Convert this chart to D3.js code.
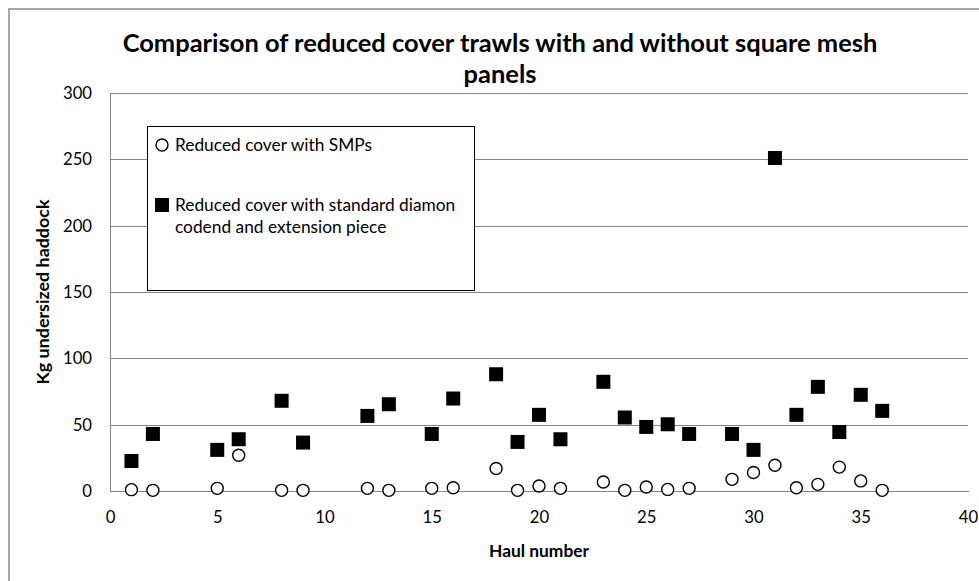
<!DOCTYPE html>
<html><head><meta charset="utf-8">
<script src="https://cdn.jsdelivr.net/npm/d3@7"></script>
<style>
body{margin:0;background:#fff;}
svg{display:block;}
text{font-family:Lato,'Noto Sans',sans-serif;fill:#000;}
</style>
</head><body>
<svg id="chart" width="979" height="581"></svg>
<script>
// ---- data ----
const hauls = [1,2,5,6,8,9,12,13,15,16,18,19,20,21,23,24,25,26,27,29,30,31,32,33,34,35,36];
const smpKg = [1,0.5,2,27,0.5,0.5,2,0.5,2,2.5,17,0.5,3.8,2,6.8,0.5,3,1.2,2,8.8,13.9,19.4,2.5,5,18,7.6,0.5];
const standardKg = [22.6,43,31,39,68,36.5,56.6,65.4,43,69.7,88,37,57.4,39,82.3,55.4,48.3,50.3,43,43,31,251,57.4,78.5,44.5,72.5,60.4];
const xTicks = [0,5,10,15,20,25,30,35,40];
const yTicks = [0,50,100,150,200,250,300];
const titleLines = ["Comparison of reduced cover trawls with and without square mesh","panels"];
const xTitle = "Haul number";
const yTitle = "Kg undersized haddock";
const legendLabels = [["Reduced cover with SMPs"],["Reduced cover with standard diamon","codend and extension piece"]];

// ---- layout ----
const svg = d3.select("#chart");
const plot = {left:110, right:968, top:93, bottom:491};
const x = d3.scaleLinear().domain([0,40]).range([plot.left, plot.right]);
const y = d3.scaleLinear().domain([0,300]).range([plot.bottom, plot.top]);
const gridColor = "#868686";

function fit(sel, target){
  const w = sel.node().getComputedTextLength();
  const fs = parseFloat(sel.attr("font-size"));
  sel.attr("font-size", (fs*target/w).toFixed(2));
}

// outer chart border (extends past the right / bottom edge)
svg.append("path")
  .attr("d", "M9,600 L9,9 L1000,9")
  .attr("fill","none").attr("stroke","#a6a6a6").attr("stroke-width",2);

// gridlines
const grid = svg.append("g").attr("transform", `translate(${plot.left},0)`)
  .call(d3.axisLeft(y).tickValues(yTicks.slice(1)).tickSize(-(plot.right-plot.left)).tickFormat(""));
grid.select(".domain").remove();
grid.selectAll("line").attr("stroke", gridColor).attr("stroke-width",1).attr("shape-rendering","crispEdges");

// y axis
const yAx = svg.append("g").attr("transform", `translate(${plot.left},0)`)
  .call(d3.axisLeft(y).tickValues(yTicks).tickSize(0).tickSizeOuter(0).tickPadding(18));
yAx.select(".domain").attr("stroke", gridColor).attr("shape-rendering","crispEdges");
yAx.selectAll("text").attr("font-size",16.7).attr("font-family","Lato,'Noto Sans',sans-serif").attr("fill","#000");

// x axis
const xAx = svg.append("g").attr("transform", `translate(0,${plot.bottom})`)
  .call(d3.axisBottom(x).tickValues(xTicks).tickSize(0).tickSizeOuter(0).tickPadding(20));
xAx.select(".domain").attr("stroke", gridColor).attr("shape-rendering","crispEdges");
xAx.selectAll("text").attr("font-size",16.7).attr("font-family","Lato,'Noto Sans',sans-serif").attr("fill","#000");

// title
const tCx = 500;
const t1 = svg.append("text").attr("x",tCx).attr("y",52).attr("text-anchor","middle")
  .attr("font-weight","bold").attr("font-size",22).text(titleLines[0]);
fit(t1, 755);
const tfs = t1.attr("font-size");
svg.append("text").attr("x",tCx).attr("y",83).attr("text-anchor","middle")
  .attr("font-weight","bold").attr("font-size",tfs).text(titleLines[1]);

// axis titles
const xt = svg.append("text").attr("x",(plot.left+plot.right)/2).attr("y",557)
  .attr("text-anchor","middle").attr("font-weight","bold").attr("font-size",16).text(xTitle);
fit(xt, 100);
const yt = svg.append("text").attr("transform",`translate(49,${(plot.top+plot.bottom)/2}) rotate(-90)`)
  .attr("text-anchor","middle").attr("font-weight","bold").attr("font-size",16).text(yTitle);
fit(yt, 185);

// points: series 1 circles
svg.append("g").selectAll("circle").data(hauls.map((h,i)=>({h, v:smpKg[i]})))
  .join("circle")
  .attr("cx", d=>x(d.h)).attr("cy", d=>y(d.v)).attr("r",6)
  .attr("fill","#fff").attr("stroke","#000").attr("stroke-width",1.4);

// series 2 squares
const sq = 14;
svg.append("g").selectAll("rect").data(hauls.map((h,i)=>({h, v:standardKg[i]})))
  .join("rect")
  .attr("x", d=>x(d.h)-sq/2).attr("y", d=>y(d.v)-sq/2).attr("width",sq).attr("height",sq)
  .attr("fill","#000");

// legend
const lg = svg.append("g");
lg.append("rect").attr("x",147.5).attr("y",126.5).attr("width",327).attr("height",164)
  .attr("fill","#fff").attr("stroke","#000").attr("stroke-width",1);
lg.append("circle").attr("cx",162).attr("cy",145).attr("r",6)
  .attr("fill","#fff").attr("stroke","#000").attr("stroke-width",1.4);
const l1 = lg.append("text").attr("x",175).attr("y",145).attr("dy","0.35em")
  .attr("font-size",16).text(legendLabels[0][0]);
fit(l1, 197);
const lfs = l1.attr("font-size");
lg.append("rect").attr("x",162-7).attr("y",205-7).attr("width",14).attr("height",14).attr("fill","#000");
legendLabels[1].forEach((s,i)=>{
  lg.append("text").attr("x",175).attr("y",205+i*22).attr("dy","0.35em")
    .attr("font-size",lfs).text(s);
});
</script>
</body></html>
